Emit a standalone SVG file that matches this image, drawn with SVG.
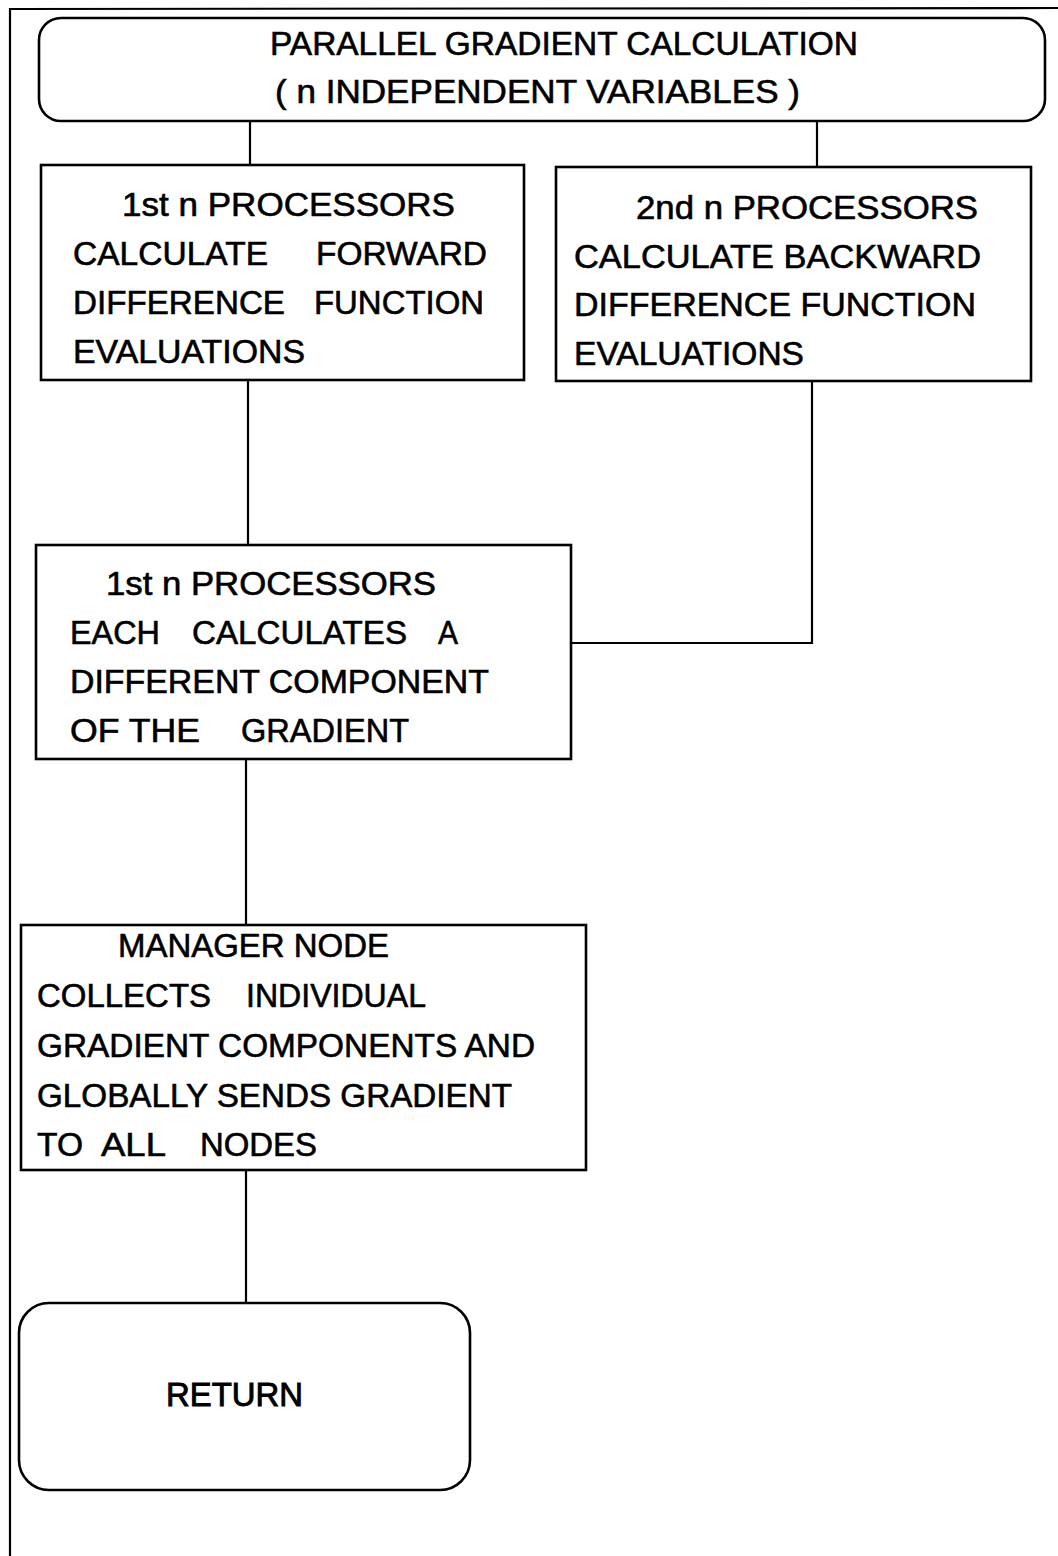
<svg xmlns="http://www.w3.org/2000/svg" width="1058" height="1556" viewBox="0 0 1058 1556">
<style>
.box{fill:#fff;stroke:#000;stroke-width:2.6}
.ln{fill:none;stroke:#000;stroke-width:2.2}
.t{font-family:"Liberation Sans",Arial,sans-serif;font-size:33px;fill:#000;stroke:#000;stroke-width:0.6}
</style>
<rect width="1058" height="1556" fill="#fff"/>
<g id="frame">
<polyline class="ln" points="10,1556 10,9 1058,8"/>
</g>
<g id="connectors">
<line class="ln" x1="250" y1="121" x2="250" y2="165"/>
<line class="ln" x1="817" y1="121" x2="817" y2="167"/>
<line class="ln" x1="248" y1="380" x2="248" y2="545"/>
<polyline class="ln" points="812,381 812,643 571,643"/>
<line class="ln" x1="246" y1="759" x2="246" y2="925"/>
<line class="ln" x1="246" y1="1170" x2="246" y2="1303"/>
</g>
<g id="start">
<rect class="box" x="39" y="18" width="1006" height="103" rx="22"/>
<text class="t" x="270" y="55" textLength="588" lengthAdjust="spacingAndGlyphs">PARALLEL GRADIENT CALCULATION</text>
<text class="t" x="275" y="103" textLength="525" lengthAdjust="spacingAndGlyphs">( n INDEPENDENT VARIABLES )</text>
</g>
<g id="forward">
<rect class="box" x="41" y="165" width="483" height="215"/>
<text class="t" x="122" y="216" textLength="333" lengthAdjust="spacingAndGlyphs">1st  n  PROCESSORS</text>
<text class="t" x="73" y="265" textLength="195" lengthAdjust="spacingAndGlyphs">CALCULATE</text>
<text class="t" x="316" y="265" textLength="171" lengthAdjust="spacingAndGlyphs">FORWARD</text>
<text class="t" x="73" y="314" textLength="212" lengthAdjust="spacingAndGlyphs">DIFFERENCE</text>
<text class="t" x="314" y="314" textLength="170" lengthAdjust="spacingAndGlyphs">FUNCTION</text>
<text class="t" x="73" y="363" textLength="232" lengthAdjust="spacingAndGlyphs">EVALUATIONS</text>
</g>
<g id="backward">
<rect class="box" x="556" y="167" width="475" height="214"/>
<text class="t" x="636" y="219" textLength="342" lengthAdjust="spacingAndGlyphs">2nd  n  PROCESSORS</text>
<text class="t" x="574" y="268" textLength="407" lengthAdjust="spacingAndGlyphs">CALCULATE BACKWARD</text>
<text class="t" x="574" y="316" textLength="402" lengthAdjust="spacingAndGlyphs">DIFFERENCE FUNCTION</text>
<text class="t" x="574" y="365" textLength="230" lengthAdjust="spacingAndGlyphs">EVALUATIONS</text>
</g>
<g id="components">
<rect class="box" x="36" y="545" width="535" height="214"/>
<text class="t" x="106" y="595" textLength="330" lengthAdjust="spacingAndGlyphs">1st  n  PROCESSORS</text>
<text class="t" x="70" y="644" textLength="90" lengthAdjust="spacingAndGlyphs">EACH</text>
<text class="t" x="192" y="644" textLength="215" lengthAdjust="spacingAndGlyphs">CALCULATES</text>
<text class="t" x="438" y="644" textLength="20" lengthAdjust="spacingAndGlyphs">A</text>
<text class="t" x="70" y="693" textLength="419" lengthAdjust="spacingAndGlyphs">DIFFERENT COMPONENT</text>
<text class="t" x="70" y="742" textLength="130" lengthAdjust="spacingAndGlyphs">OF THE</text>
<text class="t" x="241" y="742" textLength="168" lengthAdjust="spacingAndGlyphs">GRADIENT</text>
</g>
<g id="manager">
<rect class="box" x="21" y="925" width="565" height="245"/>
<text class="t" x="118" y="957" textLength="271" lengthAdjust="spacingAndGlyphs">MANAGER NODE</text>
<text class="t" x="37" y="1007" textLength="174" lengthAdjust="spacingAndGlyphs">COLLECTS</text>
<text class="t" x="246" y="1007" textLength="180" lengthAdjust="spacingAndGlyphs">INDIVIDUAL</text>
<text class="t" x="37" y="1057" textLength="498" lengthAdjust="spacingAndGlyphs">GRADIENT COMPONENTS AND</text>
<text class="t" x="37" y="1107" textLength="475" lengthAdjust="spacingAndGlyphs">GLOBALLY SENDS GRADIENT</text>
<text class="t" x="37" y="1156" textLength="46" lengthAdjust="spacingAndGlyphs">TO</text>
<text class="t" x="101" y="1156" textLength="65" lengthAdjust="spacingAndGlyphs">ALL</text>
<text class="t" x="200" y="1156" textLength="117" lengthAdjust="spacingAndGlyphs">NODES</text>
</g>
<g id="return">
<rect class="box" x="19" y="1303" width="451" height="187" rx="30"/>
<text class="t" x="166" y="1406" textLength="137" lengthAdjust="spacingAndGlyphs" style="stroke-width:0.9">RETURN</text>
</g>
</svg>
